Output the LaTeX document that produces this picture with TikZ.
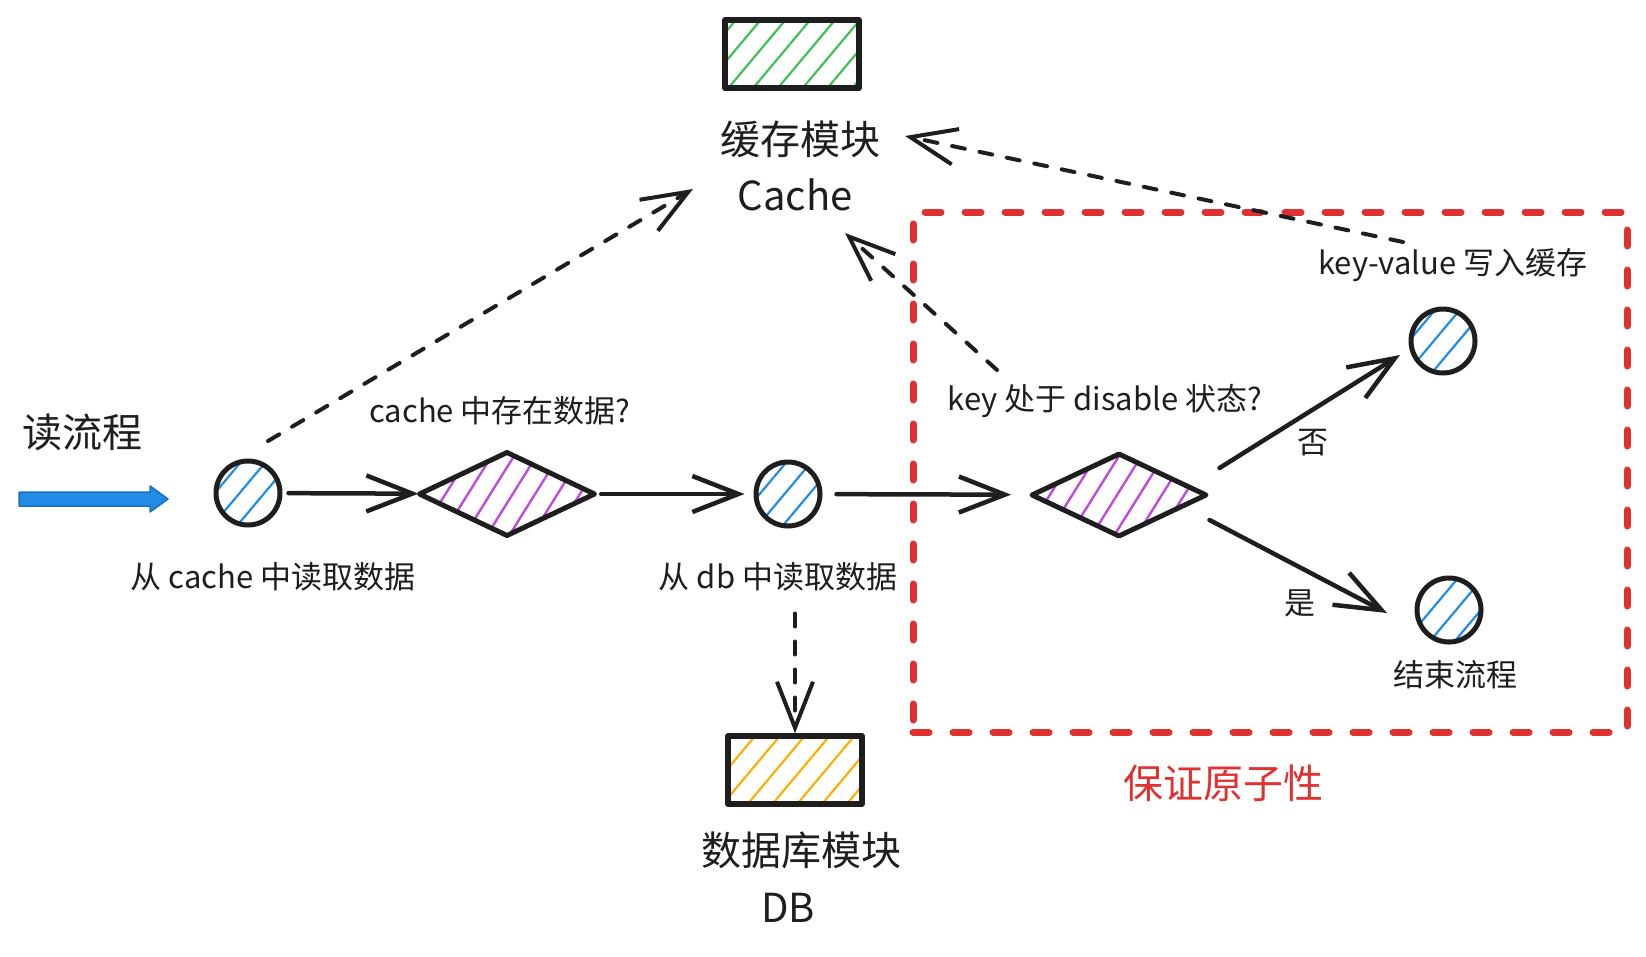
\documentclass[tikz,border=0pt]{standalone}
\usepackage{fontspec}
\setmainfont{Noto Sans CJK SC}
\usetikzlibrary{arrows.meta,shapes.geometric,patterns.meta}

\definecolor{ink}{HTML}{1E1E1E}
\definecolor{hatchblue}{HTML}{228BE6}
\definecolor{hatchgreen}{HTML}{40C057}
\definecolor{hatchpurple}{HTML}{BE4BDB}
\definecolor{hatchorange}{HTML}{FAB005}
\definecolor{alertred}{HTML}{E03131}
\definecolor{entryblue}{HTML}{228BE6}
\definecolor{entryedge}{HTML}{1971C2}

\begin{document}
\begin{tikzpicture}[
		x=1pt,
		y=-1pt,
		color=ink,
		line cap=round,
		line join=round,
		every node/.style={
			inner sep=0pt,
			font=\fontsize{31}{36}\selectfont,
		},
		bigtext/.style={
			font=\fontsize{40}{46}\selectfont,
		},
		stepdot/.style={
			circle,
			draw=ink,
			line width=5pt,
			minimum size=64pt,
			pattern={Lines[angle=50,distance=19pt,line width=2.2pt]},
			pattern color=hatchblue,
		},
		choice/.style={
			diamond,
			draw=ink,
			line width=5pt,
			minimum width=176pt,
			minimum height=84pt,
			pattern={Lines[angle=58,distance=19pt,line width=2.4pt]},
			pattern color=hatchpurple,
		},
		module/.style={
			rectangle,
			draw=ink,
			line width=5.5pt,
			minimum width=134pt,
			minimum height=68pt,
			pattern={Lines[angle=50,distance=19pt,line width=2.2pt]},
		},
		flow/.style={
			-{Straight Barb[length=46pt,width=36pt]},
			line width=4.5pt,
		},
		lookup/.style={
			flow,
			line width=4pt,
			dash pattern=on 13pt off 15pt,
		},
	]
	\useasboundingbox (0,0) rectangle (1646,956);

	% modules
	\node[module, pattern color=hatchgreen] (cache) at (792,54) {};
	\node[bigtext] (cachezh) at (800,139) {缓存模块};
	\node[bigtext] (cacheen) at (795,195) {Cache};
	\node[module, pattern color=hatchorange] (db) at (795,770) {};
	\node[bigtext] (dbzh) at (801,850) {数据库模块};
	\node[bigtext] (dben) at (788,908) {DB};

	% read flow
	\node[bigtext] (readflow) at (82,432) {读流程};
	\filldraw[fill=entryblue, draw=entryedge, line width=1.5pt]
		(19,492) -- (150,492) -- (150,486) -- (168,499) -- (150,512) -- (150,506) -- (19,506) -- cycle;
	\node[stepdot] (readcache) at (248,493) {};
	\node (readcachetxt) at (273,577) {从 cache 中读取数据};
	\node[choice] (hit) at (507,494) {};
	\node (hittxt) at (500,411) {cache 中存在数据?};
	\node[stepdot] (readdb) at (788,494) {};
	\node (readdbtxt) at (778,577) {从 db 中读取数据};

	% atomic part
	\node[
		draw=alertred,
		line width=7pt,
		dash pattern=on 16pt off 24pt,
		minimum width=714pt,
		minimum height=520pt,
	] (atomic) at (1270,472) {};
	\node[bigtext, text=alertred] (atomictxt) at (1223,783) {保证原子性};
	\node[choice] (disabled) at (1119,495) {};
	\node (disabledtxt) at (1105,401) {key 处于 disable 状态?};
	\node[stepdot] (write) at (1443,341) {};
	\node (writetxt) at (1453,265) {key-value 写入缓存};
	\node[stepdot] (finish) at (1449,610) {};
	\node (finishtxt) at (1455,675) {结束流程};
	\node (no) at (1313,443) {否};
	\node (yes) at (1300,603) {是};

	% connectors
	\draw[flow, shorten <=6pt] (readcache) -- (hit);
	\draw[flow, shorten <=5pt, shorten >=9pt] (hit) -- (readdb);
	\draw[flow, shorten <=14pt, shorten >=18pt] (readdb) -- (disabled);
	\draw[flow] ([shift={(10,-27)}]disabled.east) -- ([shift={(-43,14)}]write.center);
	\draw[flow] ([shift={(0,25)}]disabled.east) -- ([shift={(-62,3)}]finish.center);
	\draw[lookup] ([shift={(20,-52)}]readcache.center) -- ([shift={(-102,-6)}]cacheen.center);
	\draw[lookup] ([shift={(-50,-23)}]writetxt.center) -- ([shift={(105,-3)}]cachezh.center);
	\draw[lookup] ([shift={(-108,-31)}]disabledtxt.center) -- ([shift={(50,38)}]cacheen.center);
	\draw[lookup] ([shift={(7,85)}]readdb.south) -- (db.north);
\end{tikzpicture}
\end{document}
